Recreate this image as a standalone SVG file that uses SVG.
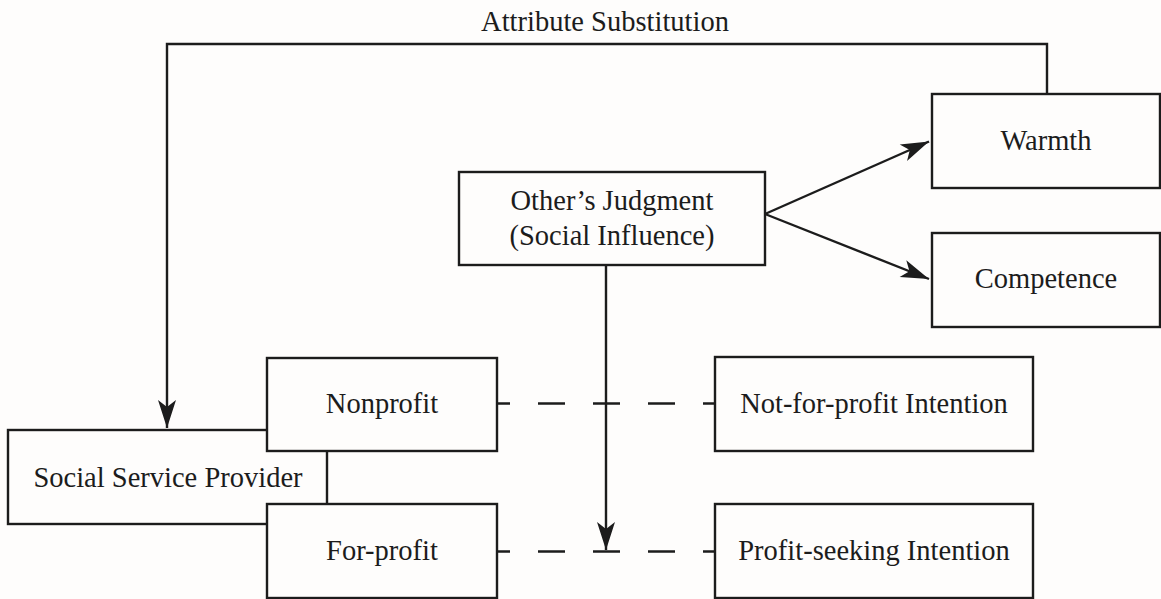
<svg xmlns="http://www.w3.org/2000/svg" width="1161" height="599" viewBox="0 0 1161 599">
<style>
.box{fill:#fefdfc;stroke:#1c1c1c;stroke-width:2.4}
.t{font-family:"Liberation Serif","Times New Roman",serif;font-size:28.5px;fill:#1c1c1c;text-anchor:middle}
.ln{fill:none;stroke:#1c1c1c;stroke-width:2.4}
.dash{fill:none;stroke:#1c1c1c;stroke-width:2.4;stroke-dasharray:27 28;stroke-dashoffset:14}
</style>
<defs>
<marker id="ah" markerUnits="userSpaceOnUse" markerWidth="40" markerHeight="30" viewBox="-30 -15 32 30" refX="0" refY="0" orient="auto">
<path d="M0,0 L-28,-9 L-21,0 L-28,9 Z" fill="#1c1c1c"/>
</marker>
</defs>
<rect width="1161" height="599" fill="#fefdfc"/>
<g id="connectors">
<polyline class="ln" points="1047,94 1047,44 167,44 167,428" marker-end="url(#ah)"/>
<line class="ln" x1="765" y1="214" x2="929" y2="141.5" marker-end="url(#ah)"/>
<line class="ln" x1="765" y1="214" x2="929" y2="279" marker-end="url(#ah)"/>
<line class="ln" x1="606" y1="265" x2="606" y2="550" marker-end="url(#ah)"/>
<line class="dash" x1="497" y1="403.5" x2="715" y2="403.5"/>
<line class="dash" x1="497" y1="551.5" x2="715" y2="551.5"/>
</g>
<text class="t" x="605" y="31">Attribute Substitution</text>
<g id="ssp"><rect class="box" x="8" y="430" width="319" height="94"/><text class="t" x="168" y="487">Social Service Provider</text></g>
<g id="nonprofit"><rect class="box" x="267" y="358" width="230" height="93"/><text class="t" x="382" y="413">Nonprofit</text></g>
<g id="forprofit"><rect class="box" x="267" y="504" width="230" height="94"/><text class="t" x="382" y="560">For-profit</text></g>
<g id="others"><rect class="box" x="459" y="172" width="306" height="93"/><text class="t" x="612" y="210">Other’s Judgment</text><text class="t" x="612" y="245">(Social Influence)</text></g>
<g id="warmth"><rect class="box" x="932" y="94" width="228" height="94"/><text class="t" x="1046" y="150">Warmth</text></g>
<g id="competence"><rect class="box" x="932" y="233" width="228" height="94"/><text class="t" x="1046" y="288">Competence</text></g>
<g id="nfp"><rect class="box" x="715" y="357" width="318" height="94"/><text class="t" x="874" y="413">Not-for-profit Intention</text></g>
<g id="ps"><rect class="box" x="715" y="504" width="318" height="94"/><text class="t" x="874" y="560">Profit-seeking Intention</text></g>
</svg>
